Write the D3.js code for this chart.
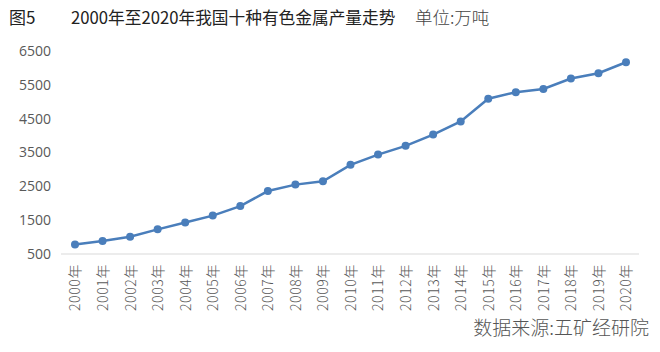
<!DOCTYPE html>
<html>
<head>
<meta charset="utf-8">
<script src="https://cdn.jsdelivr.net/npm/d3@7"></script>
<style>
  body { margin: 0; background: #fff; }
  svg { display: block; }
</style>
</head>
<body>
<svg id="chart" width="660" height="352"></svg>
<script>
// years and production of ten nonferrous metals (10k tonnes)
const years = ["2000", "2001", "2002", "2003", "2004", "2005", "2006", "2007", "2008", "2009", "2010",
  "2011", "2012", "2013", "2014", "2015", "2016", "2017", "2018", "2019", "2020"];
const output = [784, 884, 1012, 1228, 1430, 1635, 1917, 2361, 2551, 2650, 3135,
  3438, 3697, 4029, 4417, 5090, 5283, 5378, 5688, 5842, 6168];
const yTicks = [500, 1500, 2500, 3500, 4500, 5500, 6500];

const line_blue = "#4a7ebb";
const label_grey = "#595959";
const cjk = "'Noto Sans CJK SC', sans-serif";

let svg = d3.select("#chart");

// plot area
const plot = { left: 61, right: 639, top: 51, bottom: 254 };

const xScale = d3.scalePoint()
  .domain(years)
  .range([75, 626]);

const yScale = d3.scaleLinear()
  .domain([500, 6500])
  .range([plot.bottom, plot.top]);

// title row
svg.append("text").attr("x", 9).attr("y", 24)
  .style("font-family", cjk).style("font-size", "17px").attr("fill", "#222")
  .text("图5");
svg.append("text").attr("x", 71).attr("y", 24)
  .style("font-family", cjk).style("font-size", "16.7px").attr("fill", "#222")
  .text("2000年至2020年我国十种有色金属产量走势");
svg.append("text").attr("x", 415).attr("y", 24)
  .style("font-family", cjk).style("font-size", "17.5px").style("font-weight", 300).attr("fill", "#444")
  .text("单位:万吨");

// y axis labels, no axis line
const yAxis = svg.append("g")
  .attr("transform", `translate(${plot.left},0)`)
  .call(d3.axisLeft(yScale).tickValues(yTicks).tickSize(0).tickPadding(10).tickFormat(d3.format("d")));
yAxis.select(".domain").remove();
yAxis.selectAll("text")
  .style("font-family", "'Open Sans', sans-serif").style("font-size", "14px").attr("fill", label_grey);

// x axis line with rotated year labels
const xAxis = svg.append("g")
  .attr("transform", `translate(0,${plot.bottom})`)
  .call(d3.axisBottom(xScale).tickSize(0).tickFormat(d => d + "年"));
xAxis.select(".domain")
  .attr("d", `M${plot.left},0H${plot.right}`)
  .attr("stroke", "#d9d9d9").attr("stroke-width", 1);
xAxis.selectAll("text")
  .attr("transform", "rotate(-90)")
  .attr("x", -10).attr("y", 0).attr("dy", "0.35em")
  .style("text-anchor", "end")
  .style("letter-spacing", "0.6px")
  .style("font-family", cjk).style("font-size", "14px").style("font-weight", 300).attr("fill", label_grey);

// line and markers
const line = d3.line()
  .x((d, i) => xScale(years[i]))
  .y(d => yScale(d));

svg.append("path")
  .attr("d", line(output))
  .attr("fill", "none")
  .attr("stroke", line_blue)
  .attr("stroke-width", 2.5);

svg.append("g").selectAll("circle")
  .data(output)
  .join("circle")
  .attr("cx", (d, i) => xScale(years[i]))
  .attr("cy", d => yScale(d))
  .attr("r", 4)
  .attr("fill", line_blue);

// source note
svg.append("text").attr("x", 649).attr("y", 335)
  .style("text-anchor", "end")
  .style("font-family", cjk).style("font-size", "19px").style("font-weight", 300).attr("fill", "#555")
  .text("数据来源:五矿经研院");
</script>
</body>
</html>
